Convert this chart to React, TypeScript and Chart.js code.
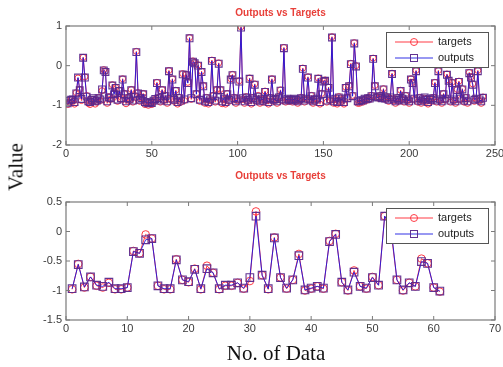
import React, { useEffect, useRef } from "react";
import { Chart, registerables } from "chart.js";
Chart.register(...registerables);

const titleText = "Outputs vs Targets";
const legendLabels = ["targets", "outputs"];
const yLabel = "Value";
const xLabel = "No. of Data";

const topXTicks = [0, 50, 100, 150, 200, 250];
const topYTicks = [-2, -1, 0, 1];
const bottomXTicks = [0, 10, 20, 30, 40, 50, 60, 70];
const bottomYTicks = [-1.5, -1, -0.5, 0, 0.5];

const topTargets = [
  -0.98, -0.92, -0.85, -0.9, -0.97, -0.68, -0.31, -0.6, -0.88, 0.21,
  -0.28, -0.75, -0.95, -0.98, -0.9, -0.85, -0.97, -0.92, -0.8, -0.88,
  -0.63, -0.1, -0.14, -0.95, -0.78, -0.85, -0.48, -0.7, -0.55, -0.9,
  -0.62, -0.85, -0.33, -0.7, -0.96, -0.8, -0.88, -0.6, -0.92, -0.75,
  0.36, -0.68, -0.9, -0.8, -0.7, -0.98, -0.96, -1.0, -0.95, -0.98,
  -0.9, -0.85, -0.42, -0.8, -0.92, -0.6, -0.88, -0.75, -0.95, -0.12,
  -0.85, -0.33, -0.9, -0.62, -0.97, -0.8, -0.92, -0.2, -0.88, -0.22,
  -0.42, 0.71, -0.85, 0.12, 0.08, -0.7, 0.02, -0.9, -0.14, -0.5,
  -0.95, -0.8, -0.97, -0.88, 0.14, -0.75, -0.92, -0.6, 0.07, -0.6,
  -0.96, -0.85, -0.97, -0.7, -0.9, -0.33, -0.22, -0.8, -0.95, -0.88,
  -0.38, 0.98, -0.85, -0.95, -0.78, -0.9, -0.31, -0.97, -0.8, -0.46,
  -0.9, -0.75, -0.95, -0.85, -0.92, -0.64, -0.88, -0.97, -0.8, -0.33,
  -0.9, -0.82, -0.95, -0.78, -0.61, -0.88, 0.46, -0.92, -0.85, -0.9,
  -0.88, -0.92, -0.85, -0.9, -0.95, -0.88, -0.8, -0.06, -0.92, -0.85,
  -0.28, -0.88, -0.75, -0.95, -0.9, -0.85, -0.31, -0.97, -0.7, -0.38,
  -0.36, -0.92, -0.54, -0.88, 0.73, -0.95, -0.85, -0.97, -0.78, -0.92,
  -0.85, -0.97, -0.54, -0.8, -0.5, 0.06, -0.75, 0.58, 0.0, -0.95,
  -0.95, -0.9, -0.92, -0.85, -0.88, -0.8, -0.85, -0.75, 0.19, -0.5,
  -0.78, -0.82, -0.75, -0.8, -0.58, -0.85, -0.78, -0.9, -0.82, -0.19,
  -0.88, -0.95, -0.8, -0.9, -0.62, -0.85, -0.92, -0.75, -0.88, -0.95,
  -0.33, -0.42, -0.85, -0.12, -0.92, -0.8, -0.95, -0.88, -0.82, -0.9,
  -0.97, -0.85, -0.9, -0.8, -0.42, -0.92, -0.12, -0.88, -0.95, -0.7,
  -0.85, -0.21, -0.36, -0.92, -0.42, -0.88, -0.95, -0.6, -0.39, -0.85,
  -0.58, -0.92, -0.8, -0.95, -0.17, -0.28, -0.46, -0.9, -0.85, -0.12,
  -0.88, -0.95, -0.79,
];

const topOutputs = [
  -0.95, -0.88, -0.86, -0.85, -0.92, -0.7, -0.3, -0.62, -0.84, 0.2,
  -0.3, -0.78, -0.9, -0.92, -0.86, -0.82, -0.9, -0.88, -0.82, -0.85,
  -0.6, -0.12, -0.16, -0.9, -0.8, -0.82, -0.5, -0.72, -0.56, -0.86,
  -0.64, -0.82, -0.35, -0.72, -0.9, -0.82, -0.85, -0.62, -0.88, -0.78,
  0.34, -0.7, -0.86, -0.82, -0.72, -0.92, -0.93, -0.95, -0.92, -0.94,
  -0.88, -0.84, -0.44, -0.82, -0.88, -0.62, -0.85, -0.77, -0.9, -0.14,
  -0.83, -0.35, -0.86, -0.64, -0.92, -0.82, -0.88, -0.22, -0.85, -0.24,
  -0.44, 0.69, -0.82, 0.1, 0.06, -0.72, 0.0, -0.86, -0.16, -0.52,
  -0.9, -0.82, -0.92, -0.85, 0.12, -0.77, -0.88, -0.62, 0.05, -0.62,
  -0.9, -0.83, -0.92, -0.72, -0.86, -0.35, -0.24, -0.82, -0.9, -0.85,
  -0.4, 0.96, -0.82, -0.9, -0.8, -0.86, -0.33, -0.92, -0.82, -0.48,
  -0.86, -0.78, -0.9, -0.83, -0.88, -0.66, -0.85, -0.92, -0.82, -0.35,
  -0.86, -0.84, -0.9, -0.8, -0.63, -0.85, 0.44, -0.88, -0.83, -0.86,
  -0.85, -0.88, -0.83, -0.86, -0.9, -0.85, -0.82, -0.08, -0.88, -0.83,
  -0.3, -0.85, -0.77, -0.9, -0.86, -0.83, -0.33, -0.92, -0.72, -0.4,
  -0.38, -0.88, -0.56, -0.85, 0.71, -0.9, -0.83, -0.92, -0.8, -0.88,
  -0.83, -0.92, -0.56, -0.82, -0.52, 0.04, -0.77, 0.56, -0.02, -0.9,
  -0.9, -0.87, -0.88, -0.83, -0.85, -0.82, -0.83, -0.77, 0.17, -0.52,
  -0.8, -0.8, -0.77, -0.82, -0.6, -0.83, -0.8, -0.86, -0.8, -0.21,
  -0.85, -0.9, -0.82, -0.86, -0.64, -0.83, -0.88, -0.77, -0.85, -0.9,
  -0.35, -0.44, -0.83, -0.14, -0.88, -0.82, -0.9, -0.85, -0.8, -0.86,
  -0.92, -0.83, -0.86, -0.82, -0.44, -0.88, -0.14, -0.85, -0.9, -0.72,
  -0.83, -0.23, -0.38, -0.88, -0.44, -0.85, -0.9, -0.62, -0.41, -0.83,
  -0.6, -0.88, -0.82, -0.9, -0.19, -0.3, -0.48, -0.86, -0.83, -0.14,
  -0.85, -0.9, -0.81,
];

const bottomTargets = [
  -0.98, -0.55, -0.95, -0.77, -0.92, -0.95, -0.87, -0.98, -0.98, -0.95,
  -0.33, -0.37, -0.05, -0.12, -0.92, -0.98, -0.98, -0.47, -0.82, -0.86,
  -0.63, -0.98, -0.58, -0.7, -0.98, -0.92, -0.92, -0.87, -0.97, -0.84,
  0.34, -0.74, -0.98, -0.1, -0.78, -0.97, -0.82, -0.38, -1.0, -0.97,
  -0.93, -0.97, -0.16, -0.04, -0.86, -1.0, -0.66, -0.93, -0.97, -0.77,
  -0.91, 0.26, 0.03, -0.82, -1.0, -0.87, -0.93, -0.46, -0.54, -0.95,
  -1.02,
];

const bottomOutputs = [
  -0.97, -0.56, -0.94, -0.77, -0.91, -0.93, -0.86, -0.97, -0.97, -0.95,
  -0.34, -0.37, -0.14, -0.12, -0.92, -0.97, -0.97, -0.48, -0.82, -0.85,
  -0.64, -0.97, -0.63, -0.7, -0.97, -0.91, -0.91, -0.87, -0.96, -0.78,
  0.26, -0.74, -0.97, -0.11, -0.78, -0.96, -0.82, -0.41, -0.99, -0.96,
  -0.93, -0.96, -0.17, -0.05, -0.86, -0.99, -0.69, -0.93, -0.96, -0.78,
  -0.91, 0.26, 0.09, -0.82, -0.99, -0.87, -0.93, -0.51, -0.54, -0.95,
  -1.01,
];

const RED = "rgba(255,50,60,0.95)";
const BLUE = "rgba(20,20,225,0.88)";
const SQUARE = "rgba(90,40,140,0.95)";
const FONT = "'Liberation Sans', Arial, sans-serif";

type Cfg = {
  targets: number[];
  outputs: number[];
  xTicks: number[];
  yTicks: number[];
  padTop: number;
  xAxisH: number;
  titleY: number;
  circleR: number;
  squareR: number;
};

function framePlugin(cfg: Cfg) {
  return {
    id: "frame",
    afterDraw(chart: any) {
      const ctx = chart.ctx;
      const a = chart.chartArea;
      const xs = chart.scales.x;
      const ys = chart.scales.y;
      ctx.save();
      ctx.strokeStyle = "#7a7a7a";
      ctx.lineWidth = 1.2;
      ctx.strokeRect(a.left, a.top, a.right - a.left, a.bottom - a.top);
      ctx.lineWidth = 1;
      ctx.beginPath();
      cfg.xTicks.forEach((v) => {
        const p = xs.getPixelForValue(v);
        ctx.moveTo(p, a.bottom);
        ctx.lineTo(p, a.bottom - 4);
        ctx.moveTo(p, a.top);
        ctx.lineTo(p, a.top + 4);
      });
      cfg.yTicks.forEach((v) => {
        const p = ys.getPixelForValue(v);
        ctx.moveTo(a.left, p);
        ctx.lineTo(a.left + 4, p);
        ctx.moveTo(a.right, p);
        ctx.lineTo(a.right - 4, p);
      });
      ctx.stroke();

      // title
      ctx.fillStyle = "#e8403a";
      ctx.font = "bold 10px " + FONT;
      ctx.textAlign = "center";
      ctx.textBaseline = "middle";
      ctx.fillText(titleText, (a.left + a.right) / 2, cfg.titleY);

      // legend
      const bw = 102;
      const bh = 35;
      const bx = a.right - 7 - bw;
      const by = a.top + 6;
      ctx.fillStyle = "#ffffff";
      ctx.fillRect(bx, by, bw, bh);
      ctx.strokeStyle = "#555555";
      ctx.lineWidth = 1;
      ctx.strokeRect(bx + 0.5, by + 0.5, bw, bh);
      const rows = [by + 10, by + 26];
      const x1 = bx + 9;
      const x2 = bx + 47;
      const xm = (x1 + x2) / 2;
      ctx.strokeStyle = RED;
      ctx.beginPath();
      ctx.moveTo(x1, rows[0]);
      ctx.lineTo(x2, rows[0]);
      ctx.stroke();
      ctx.beginPath();
      ctx.arc(xm, rows[0], 3.5, 0, Math.PI * 2);
      ctx.stroke();
      ctx.strokeStyle = BLUE;
      ctx.beginPath();
      ctx.moveTo(x1, rows[1]);
      ctx.lineTo(x2, rows[1]);
      ctx.stroke();
      ctx.strokeStyle = SQUARE;
      ctx.strokeRect(xm - 3.5, rows[1] - 3.5, 7, 7);
      ctx.fillStyle = "#222222";
      ctx.font = "11px " + FONT;
      ctx.textAlign = "left";
      ctx.fillText(legendLabels[0], bx + 52, rows[0]);
      ctx.fillText(legendLabels[1], bx + 52, rows[1]);
      ctx.restore();
    },
  };
}

function makeConfig(cfg: Cfg): any {
  const tData = cfg.targets.map((v, i) => ({ x: i + 1, y: v }));
  const oData = cfg.outputs.map((v, i) => ({ x: i + 1, y: v }));
  const tickFont = { family: FONT, size: 11 };
  return {
    type: "line",
    data: {
      datasets: [
        {
          label: legendLabels[0],
          data: tData,
          order: 2,
          borderColor: RED,
          borderWidth: 1,
          pointStyle: "circle",
          pointRadius: cfg.circleR,
          pointBorderColor: RED,
          pointBackgroundColor: "rgba(0,0,0,0)",
          pointBorderWidth: 1,
          tension: 0,
        },
        {
          label: legendLabels[1],
          data: oData,
          order: 1,
          borderColor: BLUE,
          borderWidth: 1,
          pointStyle: "rect",
          pointRadius: cfg.squareR,
          pointBorderColor: SQUARE,
          pointBackgroundColor: "rgba(0,0,0,0)",
          pointBorderWidth: 1.1,
          tension: 0,
        },
      ],
    },
    options: {
      animation: false,
      responsive: false,
      devicePixelRatio: 1,
      events: [],
      layout: { padding: { top: cfg.padTop, right: 8, left: 0, bottom: 0 } },
      plugins: { legend: { display: false }, title: { display: false }, tooltip: { enabled: false } },
      scales: {
        x: {
          type: "linear",
          min: cfg.xTicks[0],
          max: cfg.xTicks[cfg.xTicks.length - 1],
          grid: { display: false, drawTicks: false },
          border: { display: false },
          afterBuildTicks: (s: any) => {
            s.ticks = cfg.xTicks.map((v) => ({ value: v }));
          },
          afterFit: (s: any) => {
            s.height = cfg.xAxisH;
            s.paddingLeft = 0;
            s.paddingRight = 0;
          },
          ticks: {
            font: tickFont,
            color: "#3a3a3a",
            padding: 2,
            maxRotation: 0,
            autoSkip: false,
            callback: (v: any) => String(v),
          },
        },
        y: {
          type: "linear",
          min: cfg.yTicks[0],
          max: cfg.yTicks[cfg.yTicks.length - 1],
          grid: { display: false, drawTicks: false },
          border: { display: false },
          afterBuildTicks: (s: any) => {
            s.ticks = cfg.yTicks.map((v) => ({ value: v }));
          },
          afterFit: (s: any) => {
            s.width = 66;
            s.paddingTop = 0;
            s.paddingBottom = 0;
          },
          ticks: {
            font: tickFont,
            color: "#3a3a3a",
            padding: 4,
            autoSkip: false,
            callback: (v: any) => String(v),
          },
        },
      },
    },
    plugins: [framePlugin(cfg)],
  };
}

const topCfg: Cfg = {
  targets: topTargets,
  outputs: topOutputs,
  xTicks: topXTicks,
  yTicks: topYTicks,
  padTop: 26,
  xAxisH: 15,
  titleY: 13,
  circleR: 3,
  squareR: 4.8,
};

const bottomCfg: Cfg = {
  targets: bottomTargets,
  outputs: bottomOutputs,
  xTicks: bottomXTicks,
  yTicks: bottomYTicks,
  padTop: 42,
  xAxisH: 47,
  titleY: 16,
  circleR: 3.8,
  squareR: 5.4,
};

function ChartCanvas({ cfg, top, height }: { cfg: Cfg; top: number; height: number }) {
  const ref = useRef<HTMLCanvasElement | null>(null);
  useEffect(() => {
    if (!ref.current) return;
    const chart = new Chart(ref.current, makeConfig(cfg));
    return () => chart.destroy();
  }, [cfg]);
  return (
    <canvas
      ref={ref}
      width={503}
      height={height}
      style={{ position: "absolute", left: 0, top, width: 503, height }}
    />
  );
}

export default function App() {
  return (
    <div
      style={{
        position: "fixed",
        left: 0,
        top: 0,
        width: 503,
        height: 367,
        background: "#ffffff",
        overflow: "hidden",
      }}
    >
      <ChartCanvas cfg={topCfg} top={0} height={160} />
      <ChartCanvas cfg={bottomCfg} top={160} height={207} />
      <div
        style={{
          position: "absolute",
          left: 16,
          top: 167,
          transform: "translate(-50%, -50%) rotate(-90deg)",
          fontFamily: "'Liberation Serif', 'Times New Roman', serif",
          fontSize: 21,
          color: "#111",
          whiteSpace: "nowrap",
          lineHeight: 1,
        }}
      >
        {yLabel}
      </div>
      <div
        style={{
          position: "absolute",
          left: 276,
          top: 353,
          transform: "translate(-50%, -50%)",
          fontFamily: "'Liberation Serif', 'Times New Roman', serif",
          fontSize: 21,
          color: "#111",
          whiteSpace: "nowrap",
          lineHeight: 1,
        }}
      >
        {xLabel}
      </div>
    </div>
  );
}
